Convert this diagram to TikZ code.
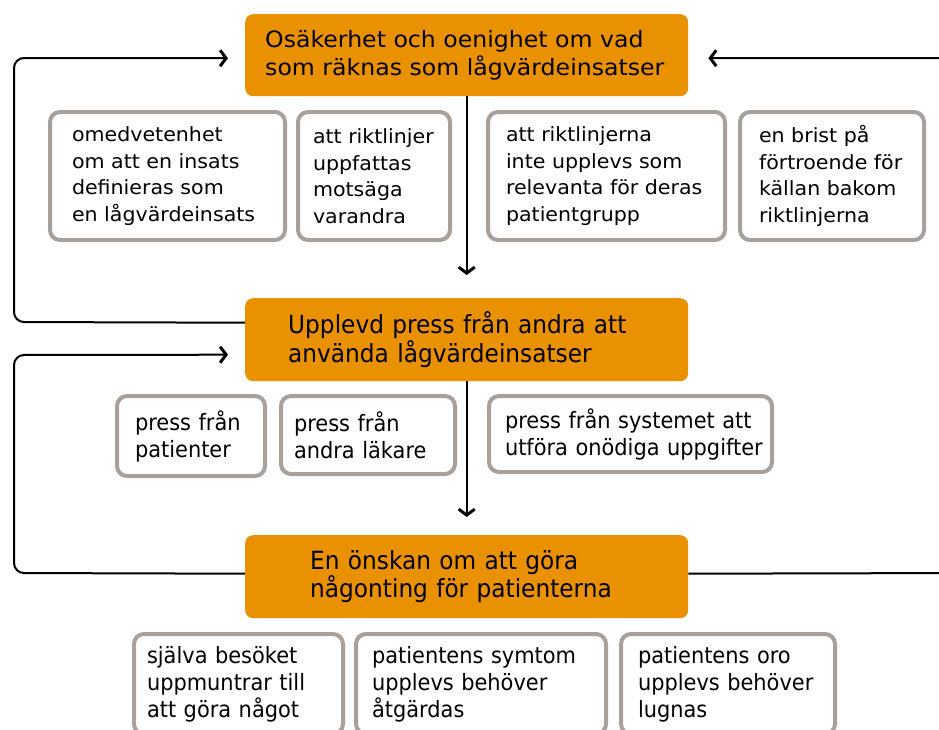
\documentclass[tikz,border=0pt]{standalone}
\usepackage{fontspec}
\setmainfont{DejaVu Sans}
\newfontfamily\condfont{DejaVu Sans}[FakeStretch=0.93]
\newfontfamily\wideont{DejaVu Sans}[FakeStretch=1.05]
\usetikzlibrary{arrows.meta}
\hyphenpenalty=10000
\exhyphenpenalty=10000
\hbadness=10000
\hfuzz=100pt
\definecolor{myorange}{RGB}{233,145,0}
\definecolor{mygray}{RGB}{168,160,154}
\tikzset{
  obox/.style={fill=myorange, rounded corners=8pt, align=left, inner ysep=0pt, anchor=north west},
  gbox/.style={draw=mygray, line width=4pt, rounded corners=10pt, fill=white, align=left, inner ysep=0pt, anchor=north west},
  topfont/.style={font=\wideont\fontsize{22.5}{28}\selectfont},
  subfont/.style={font=\wideont\fontsize{19.6}{26.5}\selectfont},
  lowofont/.style={font=\condfont\fontsize{25}{28.5}\selectfont},
  lowsfont/.style={font=\condfont\fontsize{22.5}{27}\selectfont},
  conn/.style={line width=2pt, rounded corners=10pt},
  tip/.style={-{Straight Barb[length=6pt,width=16pt,line width=3pt]}}
}
\begin{document}
\begin{tikzpicture}[x=1pt,y=-1pt]
\useasboundingbox (0,0) rectangle (939,729);
\fill[white] (0,0) rectangle (939,729);
\clip (0,0) rectangle (939,729);

% orange boxes
\node[obox, topfont, minimum height=82pt, inner xsep=20pt, text width=403pt] (A) at (245,14)
  {Osäkerhet~och~oenighet~om~vad\\som~räknas~som~lågvärdeinsatser};
\node[obox, lowofont, minimum height=83pt, inner xsep=43pt, text width=357pt] (C) at (245,298)
  {Upplevd~press~från~andra~att\\använda~lågvärdeinsatser};
\node[obox, lowofont, minimum height=83pt, inner xsep=65pt, text width=313pt] (E) at (245,535)
  {En~önskan~om~att~göra\\någonting~för~patienterna};

% first row
\node[gbox, subfont, minimum height=128pt, inner xsep=22pt, text width=191pt] (B1) at (48,110)
  {omedvetenhet\\om~att~en~insats\\definieras~som\\en~lågvärdeinsats};
\node[gbox, subfont, minimum height=128pt, inner xsep=15pt, text width=122pt] (B2) at (296,110)
  {att~riktlinjer\\uppfattas\\motsäga\\varandra};
\node[gbox, subfont, minimum height=128pt, inner xsep=18pt, text width=201pt] (B3) at (486,110)
  {att~riktlinjerna\\inte~upplevs~som\\relevanta~för~deras\\patientgrupp};
\node[gbox, subfont, minimum height=128pt, inner xsep=19pt, text width=146pt] (B4) at (738,110)
  {en~brist~på\\förtroende~för\\källan~bakom\\riktlinjerna};

% second row
\node[gbox, lowsfont, minimum height=80pt, inner xsep=18pt, text width=112pt] (C1) at (115,394)
  {press~från\\patienter};
\node[gbox, lowsfont, minimum height=78pt, inner xsep=13pt, text width=148pt] (C2) at (279,394)
  {press~från\\andra~läkare};
\node[gbox, lowsfont, minimum height=76pt, inner xsep=16pt, text width=251pt] (C3) at (487,394)
  {press~från~systemet~att\\utföra~onödiga~uppgifter};

% third row
\node[gbox, lowsfont, minimum height=100pt, inner xsep=13pt, text width=183pt] (E1) at (132,632)
  {själva~besöket\\uppmuntrar~till\\att~göra~något};
\node[gbox, lowsfont, minimum height=100pt, inner xsep=16pt, text width=218pt] (E2) at (354,632)
  {patientens~symtom\\upplevs~behöver\\åtgärdas};
\node[gbox, lowsfont, minimum height=100pt, inner xsep=17pt, text width=180pt] (E3) at (619,632)
  {patientens~oro\\upplevs~behöver\\lugnas};

% vertical arrows
\draw[conn, tip] (A.south) -- ([yshift=23pt]C.north);
\draw[conn, tip] (C.south) -- ([yshift=18pt]E.north);

% loops
\draw[conn, tip] ([yshift=17pt]C.west) -- (14,322) -- (14,58) -- ([xshift=-17pt,yshift=-3pt]A.west);
\draw[conn, tip] ([yshift=3pt]E.west) -- (14,573) -- (14,355) -- ([xshift=-17pt,yshift=-15pt]C.west);
\draw[conn, tip] ([yshift=3pt]E.east) -- (965,573) -- (965,58) -- ([xshift=20pt,yshift=-3pt]A.east);
\end{tikzpicture}
\end{document}
